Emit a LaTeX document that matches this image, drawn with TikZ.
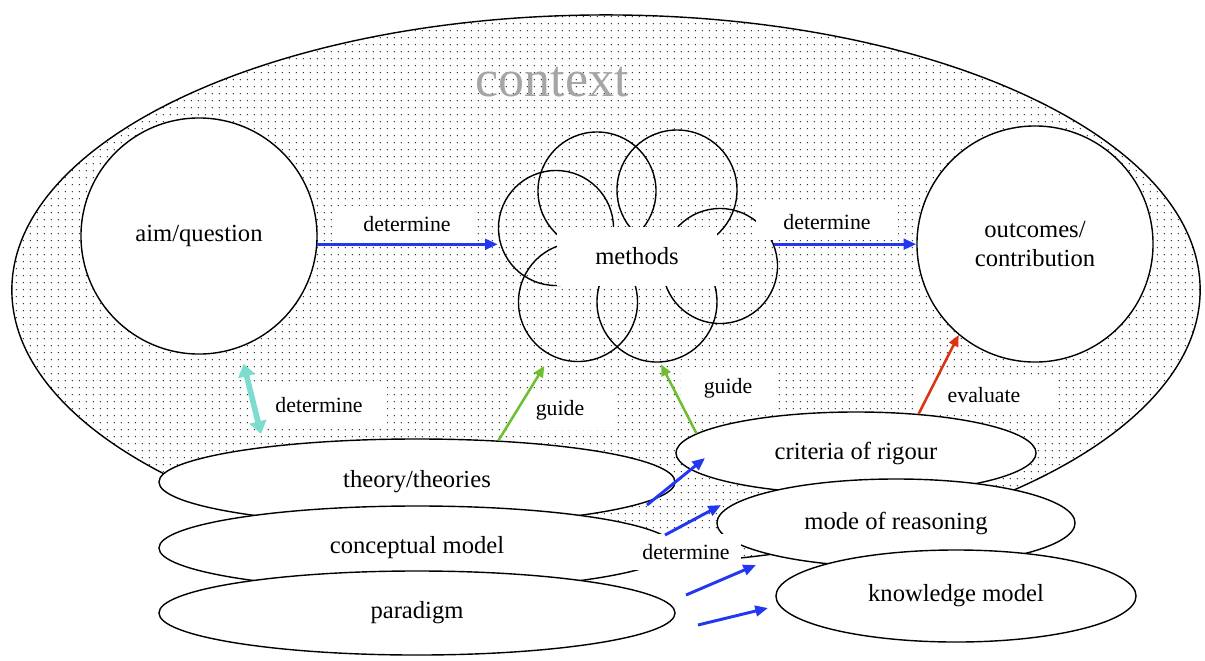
\documentclass[tikz,border=0pt]{standalone}
\usepackage{fontspec}
\setmainfont{Liberation Serif}
\usepackage{tikz}
\usetikzlibrary{shapes.geometric,arrows.meta,patterns.meta}

\definecolor{detblue}{RGB}{35,55,240}
\definecolor{detteal}{RGB}{125,220,205}
\definecolor{guidegreen}{RGB}{110,190,50}
\definecolor{evalred}{RGB}{220,50,20}
\definecolor{ctxgray}{RGB}{165,165,165}

\tikzdeclarepattern{
  name=ctxdots,
  type=uncolored,
  bounding box={(0pt,0pt) and (4.8pt,4.8pt)},
  tile size={(4.8pt,4.8pt)},
  code={\fill (2.4pt,2.4pt) circle (0.55pt);}
}

\begin{document}
\begin{tikzpicture}[x=0.025cm,y=-0.025cm,
  bigtext/.style={font=\fontsize{17.5pt}{21pt}\selectfont,align=center},
  smalltext/.style={font=\fontsize{15.5pt}{18pt}\selectfont},
  ring/.style={bigtext,draw,circle,fill=white,line width=1pt,minimum size=5.9cm,inner sep=0pt},
  oval/.style={bigtext,draw,ellipse,fill=white,line width=1pt,inner sep=0pt},
  puff/.style={draw,circle,line width=1pt,inner sep=0pt},
  tag/.style={smalltext,fill=white,inner sep=0pt},
  detarrow/.style={detblue,line width=2.1pt,-{Triangle[length=9pt,width=7.5pt]}},
  twoway/.style={detteal,line width=4pt,{Triangle[length=9pt,width=12pt]}-{Triangle[length=9pt,width=12pt]}},
  guidearrow/.style={guidegreen,line width=1.8pt,-{Triangle[length=8pt,width=7pt]}},
  evalarrow/.style={evalred,line width=1.8pt,-{Triangle[length=8pt,width=7pt]}}]
\useasboundingbox (0,0) rectangle (1205,660);

\node[draw,ellipse,line width=1pt,pattern=ctxdots,pattern color=black!85,
  minimum width=29.7cm,minimum height=13.75cm] (context) at (606,290) {};
\node[font=\fontsize{37pt}{40pt}\selectfont,text=ctxgray] (ctxlabel) at (552,82) {context};

\node[ring] (aim) at (199,236) {aim/question};
\node[ring] (outcomes) at (1035,244) {outcomes/\\contribution};

\foreach \nm/\cx/\cy/\d in {m1/597/191/2.95cm, m2/677/190/3cm, m3/556/228/2.875cm,
    m4/720/266/2.875cm, m5/578/302/2.975cm, m6/657/302/3cm}
  \node[puff,minimum size=\d] (\nm) at (\cx,\cy) {};
\node[bigtext,fill=white,inner sep=0pt,minimum width=4cm,minimum height=1.475cm] (methods) at (637,256) {methods};

\node[oval,minimum width=12.9cm,minimum height=2.15cm] (theory) at (417,482) {theory/theories};
\node[oval,minimum width=12.9cm,minimum height=2.1cm] (conceptual) at (417,548) {conceptual model};
\node[oval,minimum width=12.9cm,minimum height=2.1cm] (paradigm) at (417,613) {paradigm};
\node[oval,minimum width=9cm,minimum height=2.05cm] (criteria) at (856,453) {criteria of rigour};
\node[oval,minimum width=8.95cm,minimum height=2.2cm] (reasoning) at (896,523) {mode of reasoning};
\node[oval,minimum width=9cm,minimum height=2.3cm] (knowledge) at (956,596) {knowledge model};

\node[tag,minimum width=3.5cm,minimum height=0.925cm] (det1) at (407,224) {determine};
\node[tag,minimum width=3.55cm,minimum height=0.875cm] (det2) at (827,222) {determine};
\node[tag,minimum width=3.4cm,minimum height=1cm] (det3) at (319,405) {determine};
\node[tag,minimum width=2.75cm,minimum height=0.9cm] (det4) at (686,552) {determine};
\node[tag,minimum width=2.625cm,minimum height=1cm] (guide1) at (560,410) {guide};
\node[tag,minimum width=2.35cm,minimum height=1.075cm] (guide2) at (728,388) {guide};
\node[tag,minimum width=3.55cm,minimum height=0.9cm] (evaluate) at (984,395) {evaluate};

\draw[detarrow] (aim.-4) -- (aim.-4 -| m3.west);
\draw[detarrow] (m4.22) -- (m4.22 -| outcomes.west);
\draw[twoway,shorten <=0.42cm,shorten >=0.33cm] (aim.-70) -- (theory.167.6);
\draw[guidearrow,shorten >=0.3cm] (theory.27) -- (m5.-117);
\draw[guidearrow,shorten >=0.05cm] (criteria.173) -- (m6.-87);
\draw[evalarrow] (criteria.32) -- (outcomes.230);

\foreach \i/\a/\b/\c/\d in {1/647/505/705/458, 2/665/535/721/505, 3/686/595/756/565, 4/698/625/768/608} {
  \coordinate (from\i) at (\a,\b);
  \coordinate (to\i) at (\c,\d);
  \draw[detarrow] (from\i) -- (to\i);
}
\end{tikzpicture}
\end{document}
